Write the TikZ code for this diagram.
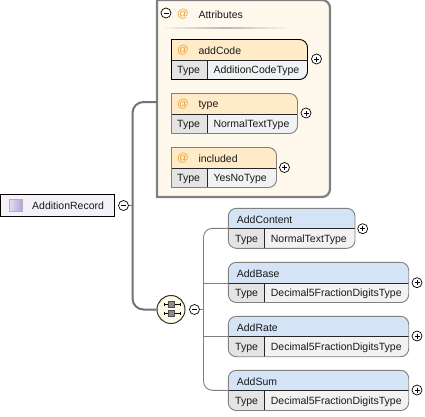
\documentclass[tikz,border=0pt]{standalone}
\usepackage{fontspec}
\setmainfont{Liberation Sans}
\usetikzlibrary{calc}
\definecolor{attrfill}{HTML}{FFF8EC}
\definecolor{framegray}{HTML}{808080}
\definecolor{hdrattr}{HTML}{FFEBC8}
\definecolor{hdrelem}{HTML}{D5E3F6}
\definecolor{typecell}{HTML}{E4E4E4}
\definecolor{valattr}{HTML}{F0F2F4}
\definecolor{valelem}{HTML}{F2F2F2}
\definecolor{atcol}{HTML}{EFA030}
\definecolor{rootfill}{HTML}{F4F1F9}
\definecolor{conn}{HTML}{808080}
\definecolor{seqfill}{HTML}{FDFBE6}
\definecolor{iconlight}{HTML}{E4DDF3}
\definecolor{icondark}{HTML}{B4A4DC}
\tikzset{
  lbl/.style={anchor=west,inner sep=0pt,yshift=-0.8pt,font=\fontsize{10.5}{12}\selectfont,text=black!90},
  atsign/.style={anchor=center,inner sep=0pt,font=\fontsize{11.5}{12}\selectfont,text=atcol},
  togglebase/.style={circle,draw=black,fill=white,line width=0.7pt,minimum size=10pt,inner sep=0pt},
  minusbtn/.style={togglebase,path picture={\draw[line width=0.7pt] ($(path picture bounding box.center)+(-2.5,0)$)--($(path picture bounding box.center)+(2.5,0)$);}},
  plusbtn/.style={togglebase,path picture={\draw[line width=0.7pt] ($(path picture bounding box.center)+(-2.5,0)$)--($(path picture bounding box.center)+(2.5,0)$) ($(path picture bounding box.center)+(0,-2.5)$)--($(path picture bounding box.center)+(0,2.5)$);}},
  thickconn/.style={draw=conn!90!black,line width=2pt,rounded corners=11pt},
  thinconn/.style={draw=conn,line width=0.9pt,rounded corners=9pt},
  innerline/.style={draw=black!85,line width=0.9pt},
}
% x1 y1 x2 ysplit y2 xdiv : attribute box (square left, rounded right)
\newcommand{\attrpath}[4]{(#1,#2) -- (#1,#4) -- (#3-8,#4) .. controls (#3-3.6,#4) and (#3,#4-3.6) .. (#3,#4-8) -- (#3,#2+8) .. controls (#3,#2+3.6) and (#3-3.6,#2) .. (#3-8,#2) -- cycle}
\newcommand{\elempath}[4]{(#1+8,#2) .. controls (#1+3.6,#2) and (#1,#2+3.6) .. (#1,#2+8) -- (#1,#4-8) .. controls (#1,#4-3.6) and (#1+3.6,#4) .. (#1+8,#4) -- (#3-8,#4) .. controls (#3-3.6,#4) and (#3,#4-3.6) .. (#3,#4-8) -- (#3,#2+8) .. controls (#3,#2+3.6) and (#3-3.6,#2) .. (#3-8,#2) -- cycle}
\newcommand{\attrbox}[7]{%
  \begin{scope}
    \clip \attrpath{#1}{#2}{#3}{#5};
    \fill[hdrattr] (#1,#2) rectangle (#3,#4);
    \fill[valattr] (#6,#4) rectangle (#3,#5);
    \fill[typecell] (#1,#4) rectangle (#6,#5);
  \end{scope}
  \draw[innerline] (#1,#4) -- (#3,#4) (#6,#4) -- (#6,#5);
  \draw[#7,line width=0.9pt] \attrpath{#1}{#2}{#3}{#5};
}
\newcommand{\elembox}[6]{%
  \begin{scope}
    \clip \elempath{#1}{#2}{#3}{#5};
    \fill[hdrelem] (#1,#2) rectangle (#3,#4);
    \fill[valelem] (#6,#4) rectangle (#3,#5);
    \fill[typecell] (#1,#4) rectangle (#6,#5);
  \end{scope}
  \draw[innerline] (#1,#4) -- (#3,#4) (#6,#4) -- (#6,#5);
  \draw[framegray,line width=0.9pt] \elempath{#1}{#2}{#3}{#5};
}
\begin{document}
\begin{tikzpicture}[x=1pt,y=-1pt]
\useasboundingbox (0,0) rectangle (425,416);
\fill[white] (0,0) rectangle (425,416);

% attributes container
\path[fill=attrfill,draw=framegray,line width=2.2pt] (157,0) -- (157,197) -- (322,197) .. controls (326.4,197) and (330,193.4) .. (330,189) -- (330,8) .. controls (330,3.6) and (326.4,0) .. (322,0) -- cycle;
\shade[left color=attrfill,right color=attrfill,middle color=black!28] (160,27.5) rectangle (290,28.5);
\node[minusbtn] (attrtoggle) at (166,13) {};
\node[atsign] (attrat) at (183,14.5) {@};
\node[lbl] (attrtitle) at (198.3,14) {Attributes};

% attribute boxes
\attrbox{171.5}{39.5}{307.5}{60.5}{79.5}{207.5}{black}
\node[lbl] (addCodeName) at (198.3,50) {addCode};
\node[atsign] (addCodeAt) at (183,50.5) {@};
\node[lbl] (addCodeT) at (177,70) {Type};
\node[lbl] (addCodeV) at (213.3,70) {AdditionCodeType};
\node[plusbtn] (addCodePlus) at (316.5,59) {};

\attrbox{171.5}{93.5}{297.5}{114}{133.5}{207.5}{framegray}
\node[lbl] (typeName) at (198.3,104) {type};
\node[atsign] (typeAt) at (183,104.5) {@};
\node[lbl] (typeT) at (177,124) {Type};
\node[lbl] (typeV) at (213.3,124) {NormalTextType};
\node[plusbtn] (typePlus) at (306,113) {};

\attrbox{171.5}{147.5}{276.5}{168}{187.5}{207.5}{framegray}
\node[lbl] (includedName) at (198.3,158) {included};
\node[atsign] (includedAt) at (183,158.5) {@};
\node[lbl] (includedT) at (177,178) {Type};
\node[lbl] (includedV) at (213.3,178) {YesNoType};
\node[plusbtn] (includedPlus) at (284.5,167.5) {};

% root
\node[draw=black,fill=rootfill,line width=1pt,minimum width=114pt,minimum height=22pt,inner sep=0pt] (root) at (57.5,205.3) {};
\shade[left color=iconlight,right color=icondark,draw=black!30,line width=0.5pt] (9.5,199) rectangle (22,211.5);
\node[lbl] (rootlabel) at (32,205.3) {AdditionRecord};
\node[minusbtn] (rootminus) at (123.5,205.5) {};

% sequence compositor
\node[circle,draw=black!80,fill=seqfill,line width=1pt,minimum size=28pt,inner sep=0pt] (seq) at (171,309.5) {};
\node[minusbtn] (seqminus) at (194.5,309.5) {};

% connector coordinates
\coordinate (typeport) at (157,102);
\coordinate (spine) at (132.5,205.5);
\coordinate (seqspine) at (203.5,309.5);

\draw[thickconn] (typeport) -| (spine) |- (seq.west);
\draw[draw=conn!90!black,line width=1pt] (rootminus.east) -- (spine);
\draw[draw=conn,line width=0.9pt] (seqminus.east) -- (seqspine);

% sequence icon
\foreach \yy in {304.5,313}{
  \draw[black,line width=0.8pt] (164,\yy) -- (180,\yy) (164,\yy-1.5) -- (164,\yy+1.5) (180,\yy-1.5) -- (180,\yy+1.5);
  \fill[black!45] (168.5,\yy-3) rectangle (174.5,\yy+3);
  \draw[black!70,line width=0.4pt] (168.5,\yy-3) rectangle (174.5,\yy+3);
}

% element boxes
\coordinate (contentport) at (228.3,228.3);
\coordinate (sumport) at (228.3,390.3);
\draw[thinconn] (contentport) -| (seqspine) |- (sumport);

\elembox{228.3}{208.3}{355}{228.3}{248.3}{264}
\node[lbl] (acName) at (236.7,219) {AddContent};
\node[lbl] (acT) at (235,239) {Type};
\node[lbl] (acV) at (270.7,239) {NormalTextType};
\node[plusbtn] (acPlus) at (362.7,228.7) {};

\elembox{228.3}{262.3}{408.7}{283}{302.5}{264}
\node[lbl] (abName) at (236.7,273) {AddBase};
\node[lbl] (abT) at (235,293) {Type};
\node[lbl] (abV) at (270.7,293) {Decimal5FractionDigitsType};
\node[plusbtn] (abPlus) at (417,282.7) {};

\elembox{228.3}{316.3}{408.7}{336.3}{356.7}{264}
\node[lbl] (arName) at (236.7,327) {AddRate};
\node[lbl] (arT) at (235,347) {Type};
\node[lbl] (arV) at (270.7,347) {Decimal5FractionDigitsType};
\node[plusbtn] (arPlus) at (417,336) {};

\elembox{228.3}{370.3}{408.7}{390.3}{410.5}{264}
\node[lbl] (asName) at (236.7,381) {AddSum};
\node[lbl] (asT) at (235,401) {Type};
\node[lbl] (asV) at (270.7,401) {Decimal5FractionDigitsType};
\node[plusbtn] (asPlus) at (417,390) {};

\coordinate (baseport) at (228.3,283);
\coordinate (rateport) at (228.3,336.3);
\draw[draw=conn,line width=0.9pt] (seqspine |- baseport) -- (baseport);
\draw[draw=conn,line width=0.9pt] (seqspine |- rateport) -- (rateport);
\end{tikzpicture}
\end{document}
